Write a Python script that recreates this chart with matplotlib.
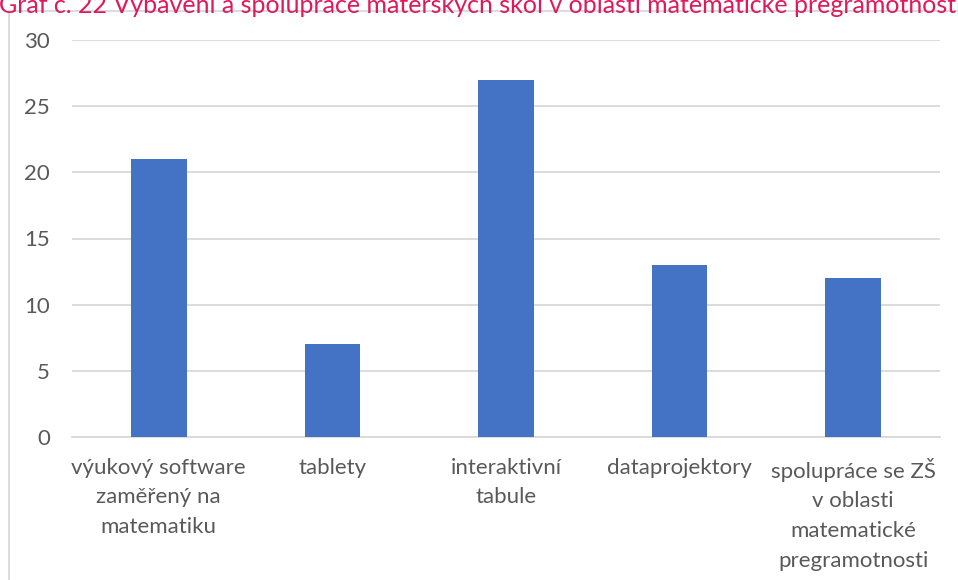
import matplotlib.pyplot as plt
from matplotlib.patches import Rectangle

# Data
categories = [
    "výukový software\nzaměřený na\nmatematiku",
    "tablety",
    "interaktivní\ntabule",
    "dataprojektory",
    "spolupráce se ZŠ\nv oblasti\nmatematické\npregramotnosti",
]
values = [21, 7, 27, 13, 12]
yticks = [0, 5, 10, 15, 20, 25, 30]
title = "Graf č. 22 Vybavení a spolupráce mateřských škol v oblasti matematické pregramotnosti"

plt.rcParams['font.family'] = ['Lato', 'DejaVu Sans']
text_color = "#595959"
grid_color = "#D9D9D9"

fig = plt.figure(figsize=(9.58, 5.80), dpi=100)

# Outer chart border (partly cut off at right and bottom)
fig.patches.append(Rectangle((9 / 958, -0.05), 1.1, 1 - 10.5 / 580 + 0.05,
                             transform=fig.transFigure, fill=False,
                             edgecolor=grid_color, linewidth=1.3))

# Title, its upper part cut off by the top edge
fig.text(-0.001, 1 - 13 / 580, title, color="#E0195A", fontsize=18,
         ha="left", va="baseline")

ax = fig.add_axes([72 / 958, 1 - 437 / 580, (940 - 72) / 958, (437 - 40) / 580])
x = range(len(categories))
ax.bar(x, values, width=0.32, color="#4472C4", zorder=3)

ax.set_xlim(-0.5, len(categories) - 0.5)
ax.set_ylim(0, 30)
ax.set_yticks(yticks)
ax.set_xticks(list(x))
ax.set_xticklabels(categories, linespacing=1.6, ha="center", multialignment="center")

ax.grid(axis='y', color=grid_color, linewidth=1.3, zorder=0)
for s in ['top', 'right', 'left']:
    ax.spines[s].set_visible(False)
ax.spines['bottom'].set_color(grid_color)
ax.spines['bottom'].set_linewidth(1.3)
ax.tick_params(axis='both', length=0, labelsize=16, labelcolor=text_color)
ax.tick_params(axis='y', pad=16)
ax.tick_params(axis='x', pad=15)
ax.set_facecolor("none")

plt.savefig("out.png", dpi=100)
